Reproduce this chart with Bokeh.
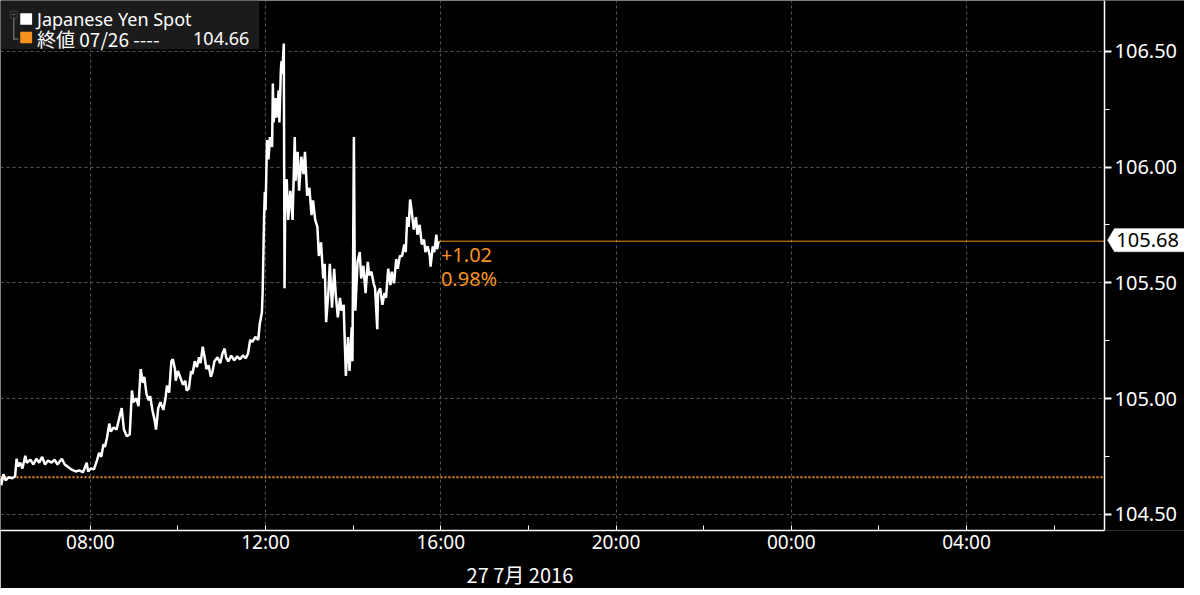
import pandas as pd
from bokeh.plotting import figure
from bokeh.models import (Range1d, FixedTicker, Label, BoxAnnotation, Title,
                          PolyAnnotation, PrintfTickFormatter, CustomJSTickFormatter)
from bokeh.embed import file_html
from bokeh.resources import INLINE

# ---------------- data ----------------
trade_date = "2016-07-27"
times = [
    "05:57", "05:58", "06:01", "06:04", "06:08", "06:13", "06:17", "06:19", "06:21", "06:24",
    "06:27", "06:31", "06:33", "06:38", "06:42", "06:46", "06:50", "06:54", "06:58", "07:02",
    "07:07", "07:11", "07:15", "07:21", "07:25", "07:29", "07:34", "07:40", "07:45", "07:50",
    "07:55", "07:57", "08:01", "08:05", "08:09", "08:12", "08:15", "08:18", "08:20", "08:23",
    "08:26", "08:28", "08:32", "08:36", "08:39", "08:43", "08:46", "08:50", "08:54", "08:57",
    "08:59", "09:03", "09:06", "09:09", "09:12", "09:14", "09:17", "09:20", "09:22", "09:25",
    "09:28", "09:30", "09:33", "09:36", "09:40", "09:43", "09:45", "09:48", "09:51", "09:53",
    "09:56", "09:57", "10:00", "10:04", "10:07", "10:10", "10:12", "10:15", "10:18", "10:20",
    "10:23", "10:26", "10:29", "10:31", "10:34", "10:37", "10:39", "10:42", "10:45", "10:47",
    "10:50", "10:54", "10:58", "11:01", "11:04", "11:06", "11:09", "11:13", "11:17", "11:21",
    "11:25", "11:29", "11:33", "11:36", "11:39", "11:42", "11:46", "11:50", "11:52", "11:55",
    "11:56", "11:58", "11:59", "12:00", "12:02", "12:04", "12:06", "12:09", "12:10", "12:11",
    "12:14", "12:15", "12:18", "12:19", "12:21", "12:22", "12:23", "12:25", "12:26", "12:27",
    "12:29", "12:31", "12:34", "12:37", "12:40", "12:41", "12:44", "12:46", "12:49", "12:52",
    "12:54", "12:57", "13:00", "13:03", "13:05", "13:08", "13:11", "13:13", "13:16", "13:19",
    "13:21", "13:23", "13:26", "13:28", "13:31", "13:34", "13:36", "13:39", "13:42", "13:44",
    "13:47", "13:48", "13:50", "13:53", "13:55", "13:58", "13:59", "14:01", "14:02", "14:03",
    "14:06", "14:09", "14:11", "14:14", "14:17", "14:20", "14:22", "14:25", "14:28", "14:30",
    "14:33", "14:34", "14:37", "14:40", "14:43", "14:45", "14:48", "14:51", "14:53", "14:56",
    "14:59", "15:01", "15:04", "15:07", "15:10", "15:12", "15:14", "15:16", "15:18", "15:20",
    "15:23", "15:26", "15:28", "15:31", "15:34", "15:37", "15:39", "15:42", "15:45", "15:46",
    "15:49", "15:51", "15:54", "15:55", "15:57",
]
prices = [
    104.656, 104.626, 104.673, 104.647, 104.660, 104.656, 104.664, 104.740, 104.706, 104.723,
    104.698, 104.753, 104.723, 104.736, 104.715, 104.740, 104.723, 104.748, 104.715, 104.732,
    104.723, 104.736, 104.715, 104.740, 104.715, 104.706, 104.694, 104.685, 104.690, 104.681,
    104.723, 104.685, 104.698, 104.694, 104.732, 104.765, 104.748, 104.803, 104.791, 104.833,
    104.892, 104.858, 104.875, 104.866, 104.908, 104.959, 104.866, 104.837, 104.845, 105.035,
    104.984, 105.001, 104.967, 105.127, 105.068, 105.094, 105.018, 104.993, 105.010, 104.951,
    104.908, 104.866, 104.959, 104.984, 104.951, 105.001, 105.056, 105.026, 105.161, 105.170,
    105.127, 105.077, 105.119, 105.085, 105.060, 105.077, 105.035, 105.043, 105.119, 105.106,
    105.161, 105.136, 105.178, 105.153, 105.224, 105.170, 105.127, 105.144, 105.094, 105.111,
    105.161, 105.178, 105.153, 105.195, 105.216, 105.178, 105.161, 105.186, 105.165, 105.182,
    105.170, 105.186, 105.174, 105.195, 105.254, 105.245, 105.266, 105.254, 105.321, 105.372,
    105.456, 105.784, 105.894, 105.814, 106.117, 106.033, 106.130, 106.087, 106.361, 106.193,
    106.298, 106.214, 106.332, 106.193, 106.424, 106.458, 106.403, 106.534, 105.477, 105.877,
    105.948, 105.772, 105.898, 105.772, 106.130, 105.940, 106.066, 105.898, 106.045, 105.970,
    106.066, 105.877, 105.911, 105.793, 105.856, 105.772, 105.742, 105.616, 105.675, 105.519,
    105.582, 105.330, 105.456, 105.582, 105.393, 105.561, 105.456, 105.351, 105.435, 105.380,
    105.405, 105.296, 105.098, 105.266, 105.119, 105.308, 105.161, 106.130, 105.624, 105.380,
    105.591, 105.633, 105.519, 105.574, 105.456, 105.591, 105.532, 105.548, 105.498, 105.477,
    105.300, 105.456, 105.477, 105.405, 105.456, 105.435, 105.561, 105.490, 105.548, 105.498,
    105.603, 105.561, 105.616, 105.616, 105.666, 105.633, 105.784, 105.742, 105.860, 105.814,
    105.730, 105.784, 105.708, 105.751, 105.666, 105.687, 105.633, 105.658, 105.616, 105.570,
    105.658, 105.633, 105.708, 105.645, 105.680,
]
series_name = "Japanese Yen Spot"
prev_close_text = "終値 07/26 ----"
prev_close = 104.66
last_price = 105.68
change_abs = "+1.02"
change_pct = "0.98%"
date_label = "27 7月 2016"
y_ticks = [104.50, 105.00, 105.50, 106.00, 106.50]
y_minor_ticks = [104.75, 105.25, 105.75, 106.25]
x_ticks = ["2016-07-27 08:00", "2016-07-27 12:00", "2016-07-27 16:00",
           "2016-07-27 20:00", "2016-07-28 00:00", "2016-07-28 04:00"]
x_minor_ticks = ["2016-07-27 10:00", "2016-07-27 14:00", "2016-07-27 18:00",
                 "2016-07-27 22:00", "2016-07-28 02:00", "2016-07-28 06:00"]
x_view = ["2016-07-27 05:57", "2016-07-28 07:09"]   # left edge .. price axis
y_view = [104.43, 106.72]


def ms(strs):
    return [int(v) for v in pd.to_datetime(strs).values.astype("datetime64[ms]").astype("int64")]


t_ms = ms([f"{trade_date} {t}" for t in times])
x_start, x_axis = ms(x_view)

# ---------------- style / layout ----------------
ORANGE = "#f5921e"
GRID = "#555555"
FONT = "Noto Sans"
CJK = "Noto Sans CJK JP"
FW, FH = 1184, 530          # frame size (full width; price axis drawn inside)
AXIS_PX = 1104              # pixel position of the price axis
KX, KY = AXIS_PX / 1118.0, FH / 544.0
x_end = x_start + (x_axis - x_start) * FW / AXIS_PX


def sx(X):
    return X * KX


def sy(Y):
    return FH - Y * KY


p = figure(frame_width=FW, frame_height=FH, x_axis_type="datetime", y_axis_location="right",
           x_range=Range1d(x_start, x_end), y_range=Range1d(*y_view),
           toolbar_location=None, output_backend="svg",
           background_fill_color="black", border_fill_color="black",
           min_border_left=0, min_border_top=0, min_border_right=0, min_border_bottom=0)
p.outline_line_color = None

xt = FixedTicker(ticks=ms(x_ticks), minor_ticks=ms(x_minor_ticks))
yt = FixedTicker(ticks=y_ticks, minor_ticks=y_minor_ticks)

xa = p.xaxis[0]
xa.ticker = xt
xa.bounds = (x_start, x_axis)
xa.formatter = CustomJSTickFormatter(code="""
const d = new Date(tick);
const h = String(d.getUTCHours()).padStart(2, "0");
const m = String(d.getUTCMinutes()).padStart(2, "0");
return h + ":" + m;
""")
xa.axis_line_color = "white"
xa.axis_line_width = 1.5
xa.major_tick_line_color = "white"
xa.minor_tick_line_color = "white"
xa.major_tick_in = 5
xa.major_tick_out = 0
xa.minor_tick_in = 5
xa.minor_tick_out = 0
xa.major_label_text_color = "white"
xa.major_label_text_font = FONT
xa.major_label_text_font_size = "19px"
xa.major_label_standoff = -2

ya = p.yaxis[0]
ya.fixed_location = x_axis
ya.ticker = yt
ya.formatter = PrintfTickFormatter(format="%.2f")
ya.axis_line_color = "white"
ya.axis_line_width = 1.5
ya.major_tick_line_color = "white"
ya.major_tick_line_width = 2
ya.minor_tick_line_color = "white"
ya.major_tick_in = 0
ya.major_tick_out = 7
ya.minor_tick_in = 0
ya.minor_tick_out = 5
ya.major_label_text_color = "white"
ya.major_label_text_font = FONT
ya.major_label_text_font_size = "20px"
ya.major_label_standoff = 3

for g, tk in ((p.xgrid[0], xt), (p.ygrid[0], yt)):
    g.ticker = tk
    g.grid_line_color = GRID
    g.grid_line_dash = "3 3"
    g.grid_line_width = 1

# blank out grid lines to the right of the price axis
p.add_layout(BoxAnnotation(left=x_axis, fill_color="black", fill_alpha=1,
                           line_color=None, level="underlay"))

# date under the time axis
p.add_layout(Title(text=date_label, align="left", offset=sx(472), standoff=0,
                   text_color="white", text_font=CJK, text_font_size="20px",
                   text_font_style="normal"), "below")

# previous close and last price lines
p.segment(x0=[x_start], y0=[prev_close], x1=[x_axis], y1=[prev_close],
          line_color=ORANGE, line_dash="2 2", line_width=2)
p.segment(x0=[t_ms[-1]], y0=[last_price], x1=[x_axis], y1=[last_price],
          line_color=ORANGE, line_width=1)

# price series
p.line(t_ms, prices, line_color="white", line_width=2.5)

# change labels
p.add_layout(Label(x=sx(446), y=sy(261), x_units="screen", y_units="screen", text=change_abs,
                   text_color=ORANGE, text_font=FONT, text_font_size="20px",
                   text_baseline="middle"))
p.add_layout(Label(x=sx(446), y=sy(285), x_units="screen", y_units="screen", text=change_pct,
                   text_color=ORANGE, text_font=FONT, text_font_size="20px",
                   text_baseline="middle"))

# last price tag on the axis
p.add_layout(PolyAnnotation(xs=[sx(1121), sx(1128), FW, FW, sx(1128)],
                            ys=[sy(246), sy(234), sy(234), sy(258), sy(258)],
                            xs_units="screen", ys_units="screen",
                            fill_color="white", fill_alpha=1, line_color="white"))
p.add_layout(Label(x=sx(1130), y=sy(246), x_units="screen", y_units="screen",
                   text=f"{last_price:.2f}", text_color="black", text_font=FONT,
                   text_font_size="20px", text_baseline="middle"))


# legend box
def box(l, r, t, b, **kw):
    return BoxAnnotation(left=sx(l), right=sx(r), top=sy(t), bottom=sy(b),
                         left_units="screen", right_units="screen",
                         top_units="screen", bottom_units="screen", **kw)


p.add_layout(box(0, 262, 0, 50, fill_color="#1b1b1b", fill_alpha=1, line_color=None))
p.add_layout(box(10, 17, 11, 18, fill_alpha=0, line_color="#8c8c8c", line_width=1))
p.add_layout(box(12, 15, 14.2, 14.8, fill_color="#8c8c8c", fill_alpha=1, line_color=None))
p.add_layout(box(13, 14, 18, 40, fill_color="#8c8c8c", fill_alpha=1, line_color=None))
p.add_layout(box(13, 18, 39, 40, fill_color="#8c8c8c", fill_alpha=1, line_color=None))
p.add_layout(box(20, 32, 13, 25, fill_color="white", fill_alpha=1, line_color=None))
p.add_layout(box(20, 32, 32, 44, fill_color=ORANGE, fill_alpha=1, line_color=None))
p.add_layout(Label(x=sx(37), y=sy(19), x_units="screen", y_units="screen", text=series_name,
                   text_color="white", text_font=FONT, text_font_size="18px",
                   text_baseline="middle"))
p.add_layout(Label(x=sx(37), y=sy(39), x_units="screen", y_units="screen",
                   text=prev_close_text, text_color="white", text_font=CJK,
                   text_font_size="19px", text_baseline="middle"))
p.add_layout(Label(x=sx(252), y=sy(39), x_units="screen", y_units="screen",
                   text=f"{prev_close:.2f}", text_color="white", text_font=FONT,
                   text_font_size="18px", text_baseline="middle", text_align="right"))

open("out.html", "w").write(file_html(p, INLINE))
